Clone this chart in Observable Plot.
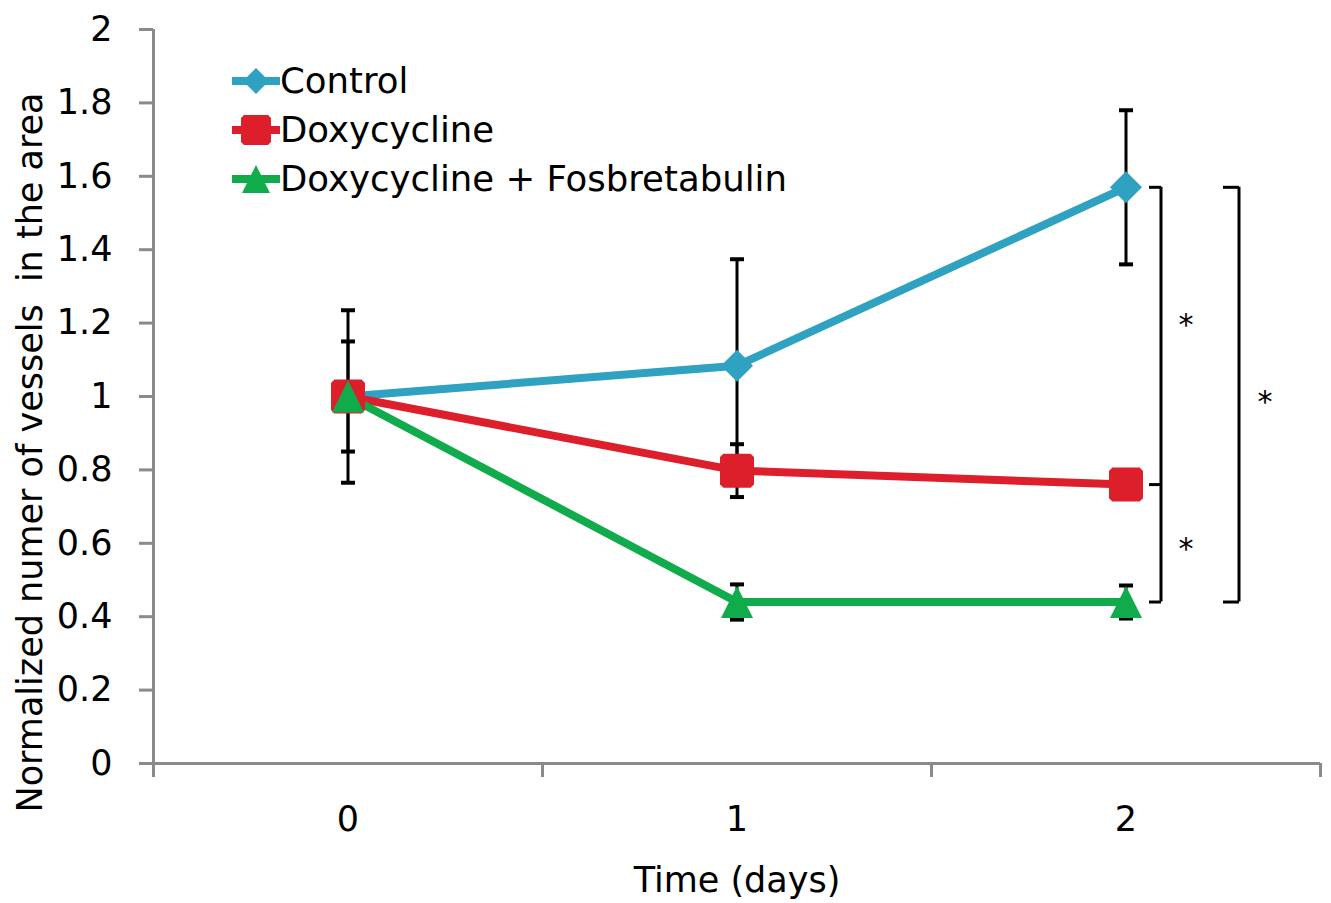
<!DOCTYPE html>
<html>
<head>
<meta charset="utf-8">
<script src="https://cdn.jsdelivr.net/npm/d3@7"></script>
<script src="https://cdn.jsdelivr.net/npm/@observablehq/plot@0.6"></script>
<style>
  body { margin: 0; background: #fff; }
  #wrap { position: relative; width: 1331px; height: 903px; font-family: "DejaVu Sans", sans-serif; }
  #wrap svg text { white-space: pre; }
  #legend { position: absolute; left: 232px; top: 56px; }
  .row { display: flex; align-items: center; height: 49px; font-size: 35.5px; color: #000; }
  .row svg { display: block; }
</style>
</head>
<body>
<div id="wrap"><div id="chart"></div><div id="legend"></div></div>
<script>
// ---- data ----
const days = [0, 1, 2];
const xTickLabels = ["0", "1", "2"];
const seriesNames = ["Control", "Doxycycline", "Doxycycline + Fosbretabulin"];
const controlValues = [1.0, 1.084, 1.57];
const controlErrors = [0.235, 0.29, 0.21];
const doxyValues = [1.0, 0.798, 0.76];
const doxyErrors = [0.15, 0.072, 0.02];
const comboValues = [1.0, 0.44, 0.44];
const comboErrors = [0.0, 0.048, 0.045];
const yTicks = [0, 0.2, 0.4, 0.6, 0.8, 1, 1.2, 1.4, 1.6, 1.8, 2];
const yTickLabels = ["0", "0.2", "0.4", "0.6", "0.8", "1", "1.2", "1.4", "1.6", "1.8", "2"];
const categoryBounds = [-0.5, 0.5, 1.5, 2.5];
const starLevels = [1.21, 0.6, 1.0];      // asterisk positions (y values)
const xTitle = "Time (days)";
const yTitle = "Normalized numer of vessels  in the area";
const colors = ["#2fa2c2", "#dc1f2b", "#10ab4b"];

// ---- build table ----
const valueSets = [controlValues, doxyValues, comboValues];
const errorSets = [controlErrors, doxyErrors, comboErrors];
const table = [];
seriesNames.forEach((s, i) => days.forEach((d, j) => table.push({
  series: s, day: d, value: valueSets[i][j], err: errorSets[i][j]
})));
const colorOf = s => colors[seriesNames.indexOf(s)];

// custom symbols
const capSymbol = { draw(ctx, size) { const w = Math.sqrt(size) / 2; ctx.moveTo(-w, 0); ctx.lineTo(w, 0); } };
const leftTick = { draw(ctx, size) { const w = Math.sqrt(size); ctx.moveTo(-w, 0); ctx.lineTo(0, 0); } };
const diamondSym = { draw(ctx, size) { const r = Math.sqrt(size) / 2; ctx.moveTo(0, -r); ctx.lineTo(r, 0); ctx.lineTo(0, r); ctx.lineTo(-r, 0); ctx.closePath(); } };
const squareSym = { draw(ctx, size) { const r = Math.sqrt(size) / 2, c = r * 0.2; ctx.moveTo(-r + c, -r); ctx.lineTo(r - c, -r); ctx.lineTo(r, -r + c); ctx.lineTo(r, r - c); ctx.lineTo(r - c, r); ctx.lineTo(-r + c, r); ctx.lineTo(-r, r - c); ctx.lineTo(-r, -r + c); ctx.closePath(); } };
const triSym = { draw(ctx, size) { const r = Math.sqrt(size) / 2; ctx.moveTo(0, -r); ctx.lineTo(r, r); ctx.lineTo(-r, r); ctx.closePath(); } };
const symbols = [diamondSym, squareSym, triSym];
const symbolOf = s => symbols[seriesNames.indexOf(s)];
const rFor = px => px / Math.sqrt(Math.PI);

const sizes = {"Control": 32, "Doxycycline": 34, "Doxycycline + Fosbretabulin": 32};

const d2 = days.length - 1;
const bracketA = [{day: days[d2], y1: controlValues[d2], y2: comboValues[d2]}];
const bracketATicks = [controlValues[d2], doxyValues[d2], comboValues[d2]].map(v => ({day: days[d2], v}));
const bracketBTicks = [controlValues[d2], comboValues[d2]].map(v => ({day: days[d2], v}));
const starsNear = [starLevels[0], starLevels[1]].map(v => ({day: days[d2], v}));
const starsFar = [starLevels[2]].map(v => ({day: days[d2], v}));

const axisGray = "#8a8a8a";
const marks = [
  Plot.ruleX([categoryBounds[0]], {y1: 0, y2: 2, stroke: axisGray, strokeWidth: 3}),
  Plot.ruleY([0], {stroke: axisGray, strokeWidth: 3}),
  Plot.axisY({ticks: yTicks, tickFormat: d => yTickLabels[yTicks.indexOf(d)], tickSize: 14, tickPadding: 27,
    stroke: axisGray, strokeWidth: 3, fill: "#000", fontSize: 35, label: null}),
  Plot.axisX({ticks: categoryBounds, tickFormat: () => "", tickSize: 14, stroke: axisGray, strokeWidth: 3, label: null}),
  Plot.axisX({ticks: days, tickFormat: d => xTickLabels[days.indexOf(d)], tickSize: 0, tickPadding: 43, fill: "#000", fontSize: 35, label: null}),
  Plot.text([xTitle], {frameAnchor: "bottom", dy: 117, fontSize: 35, fill: "#000", lineAnchor: "middle"}),
  Plot.text([yTitle], {frameAnchor: "left", rotate: -90, dx: -123, dy: 56, fontSize: 35, fill: "#000", lineAnchor: "middle", textAnchor: "middle"}),
  // error bars
  Plot.ruleX(table.filter(d => d.err > 0), {x: "day", y1: d => d.value - d.err, y2: d => d.value + d.err, stroke: "#000", strokeWidth: 3}),
  Plot.dot(table.filter(d => d.err > 0), {x: "day", y: d => d.value + d.err, symbol: capSymbol, r: rFor(14), stroke: "#000", strokeWidth: 4, fill: "none"}),
  Plot.dot(table.filter(d => d.err > 0), {x: "day", y: d => d.value - d.err, symbol: capSymbol, r: rFor(14), stroke: "#000", strokeWidth: 4, fill: "none"}),
  // lines
  ...seriesNames.map(s => Plot.line(table.filter(d => d.series === s), {x: "day", y: "value", stroke: colorOf(s), strokeWidth: 8})),
  // markers
  ...seriesNames.map(s => Plot.dot(table.filter(d => d.series === s), {x: "day", y: "value", symbol: symbolOf(s), r: rFor(sizes[s]), fill: colorOf(s), stroke: "none"})),
  // significance brackets
  Plot.ruleX(bracketA, {x: "day", y1: "y1", y2: "y2", dx: 35, stroke: "#000", strokeWidth: 3}),
  Plot.dot(bracketATicks, {x: "day", y: "v", dx: 35, symbol: leftTick, r: rFor(12), stroke: "#000", strokeWidth: 3, fill: "none"}),
  Plot.ruleX(bracketA, {x: "day", y1: "y1", y2: "y2", dx: 113, stroke: "#000", strokeWidth: 3}),
  Plot.dot(bracketBTicks, {x: "day", y: "v", dx: 113, symbol: leftTick, r: rFor(16), stroke: "#000", strokeWidth: 3, fill: "none"}),
  Plot.text(starsNear, {x: "day", y: "v", dx: 60, text: () => "*", fontSize: 30, fill: "#000", dy: 6}),
  Plot.text(starsFar, {x: "day", y: "v", dx: 139, text: () => "*", fontSize: 30, fill: "#000", dy: 6})
];

const chart = Plot.plot({
  width: 1331,
  height: 903,
  marginLeft: 153,
  marginRight: 11,
  marginTop: 29,
  marginBottom: 140,
  style: {fontFamily: "DejaVu Sans, sans-serif", background: "#fff", overflow: "visible"},
  x: {type: "linear", domain: [categoryBounds[0], categoryBounds[categoryBounds.length - 1]], axis: null},
  y: {domain: [0, 2], axis: null},
  marks
});
document.getElementById("chart").appendChild(chart);

// legend
const legend = document.getElementById("legend");
const pathFor = (sym, size) => d3.symbol(sym, size * size)();
seriesNames.forEach((s, i) => {
  const row = document.createElement("div");
  row.className = "row";
  const msize = [26, 30, 28][i];
  row.innerHTML = `<svg width="48" height="40" viewBox="0 0 48 40">
    <line x1="0" x2="48" y1="20" y2="20" stroke="${colors[i]}" stroke-width="8"/>
    <path transform="translate(24,20)" d="${pathFor(symbols[i], msize)}" fill="${colors[i]}"/>
  </svg><span>${s}</span>`;
  legend.appendChild(row);
});
</script>
</body>
</html>
